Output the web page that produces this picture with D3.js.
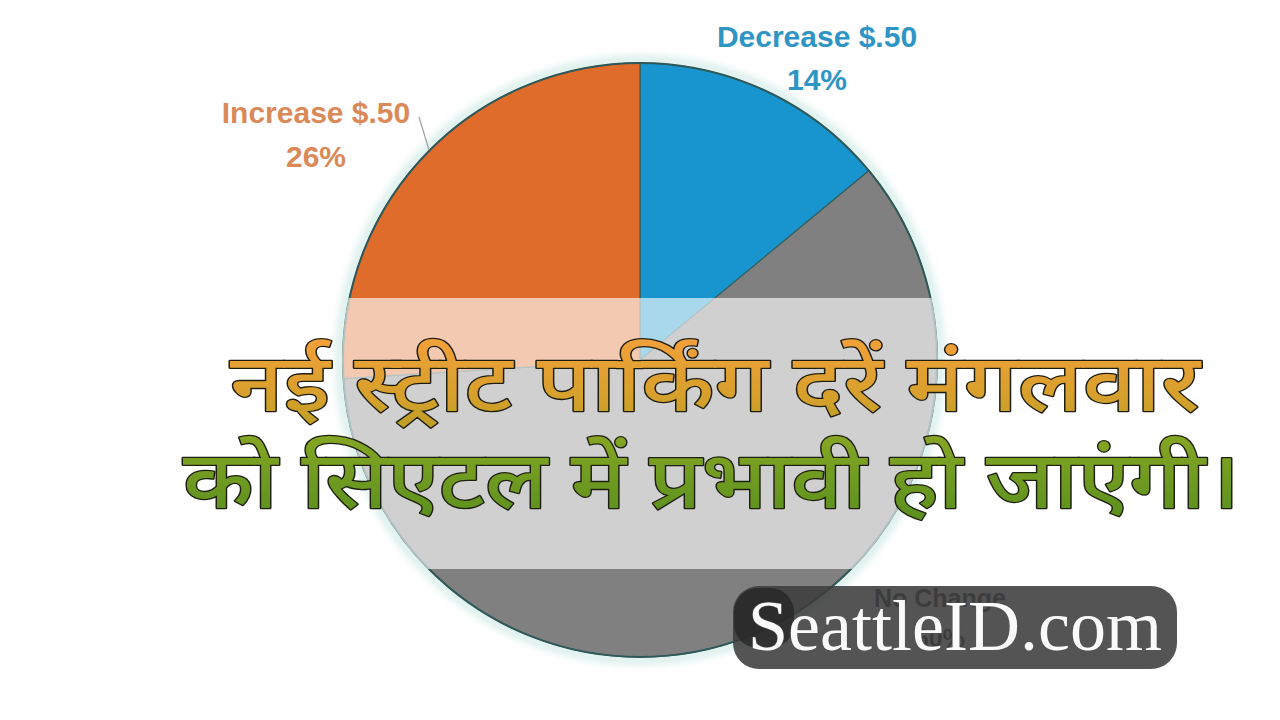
<!DOCTYPE html>
<html><head><meta charset="utf-8">
<script src="https://cdn.jsdelivr.net/npm/d3@7"></script>
<style>html,body{margin:0;padding:0;background:#fff;}svg{display:block;}</style>
</head><body>
<svg id="c" width="1280" height="720"></svg>
<script>
const categories = ["Decrease $.50", "No Change", "Increase $.50"];
const values = [14, 60, 26];
const pctLabels = ["14%", "60%", "26%"];
const colors = ["#1895CF", "#808080", "#E06C2C"];
const labelColors = ["#2E95C4", "#3a3a3a", "#D98A58"];
const headline = ["नई स्ट्रीट पार्किंग दरें मंगलवार", "को सिएटल में प्रभावी हो जाएंगी।"];
const watermark = "SeattleID.com";

const svg = d3.select("#c");
const W = 1280, H = 720, cx = 640, cy = 360, R = 297;
const defs = svg.append("defs");

const f = defs.append("filter").attr("id","blur").attr("x","-20%").attr("y","-20%").attr("width","140%").attr("height","140%");
f.append("feGaussianBlur").attr("stdDeviation", 4);

defs.append("clipPath").attr("id","pieclip").append("circle").attr("cx",cx).attr("cy",cy).attr("r",R+1);

const g1 = defs.append("linearGradient").attr("id","gold").attr("x1",0).attr("y1",0).attr("x2",0).attr("y2",1);
g1.append("stop").attr("offset","0%").attr("stop-color","#F2A03A");
g1.append("stop").attr("offset","55%").attr("stop-color","#D6A02C");
g1.append("stop").attr("offset","100%").attr("stop-color","#B09E22");
const g2 = defs.append("linearGradient").attr("id","green").attr("x1",0).attr("y1",0).attr("x2",0).attr("y2",1);
g2.append("stop").attr("offset","0%").attr("stop-color","#86A624");
g2.append("stop").attr("offset","100%").attr("stop-color","#4E8A1C");

svg.append("circle").attr("cx",cx).attr("cy",cy).attr("r",R+3)
  .attr("fill","none").attr("stroke","#9fd6cc").attr("stroke-width",6).attr("opacity",0.6).attr("filter","url(#blur)");

const pie = d3.pie().sort(null).value(d => d)(values);
const arc = d3.arc().innerRadius(0).outerRadius(R);
const pg = svg.append("g").attr("transform", `translate(${cx},${cy})`);
pg.selectAll("path").data(pie).join("path")
  .attr("d", arc).attr("fill", (d,i) => colors[i])
  .attr("stroke", "#35605e").attr("stroke-width", 1.2);
pg.append("circle").attr("r", R).attr("fill","none").attr("stroke","#2f5858").attr("stroke-width",2);

const bandY = d3.scaleLinear().domain([0,1]).range([298, 569]);
svg.append("rect").attr("x", 0).attr("y", bandY(0)).attr("width", W).attr("height", bandY(1)-bandY(0))
  .attr("fill","#fff").attr("opacity",0.63).attr("clip-path","url(#pieclip)");

svg.append("line").attr("x1",419).attr("y1",117).attr("x2",429).attr("y2",150)
  .attr("stroke","#a0a0a0").attr("stroke-width",1.2);

const labelPos = [[817,47,90],[940,607,647],[316,123,167]];
labelPos.forEach((p,i) => {
  const t = svg.append("g").attr("font-family","'Liberation Sans', Arial, sans-serif").attr("font-weight","bold")
    .attr("fill",labelColors[i]).attr("text-anchor","middle");
  t.append("text").attr("x",p[0]).attr("y",p[1]).text(categories[i]).attr("font-size", i===1?25:30);
  t.append("text").attr("x",p[0]).attr("y",p[2]).text(pctLabels[i]).attr("font-size", i===1?25:30);
});

const hl = [
  {t: headline[0], x: 230, y: 411, w: 970, fill: "url(#gold)"},
  {t: headline[1], x: 183, y: 508, w: 1057, fill: "url(#green)"}
];
hl.forEach(h => {
  svg.append("text").attr("x", h.x).attr("y", h.y).text(h.t)
    .attr("font-family","'Noto Sans Devanagari','Noto Sans','Lohit Devanagari',sans-serif")
    .attr("font-weight","500").attr("font-size",80)
    .attr("textLength", h.w).attr("lengthAdjust","spacingAndGlyphs")
    .attr("fill", h.fill).attr("stroke","#1e1e10").attr("stroke-width",2.6).attr("paint-order","stroke")
    .attr("stroke-linejoin","round");
});

svg.append("rect").attr("x",733).attr("y",586).attr("width",444).attr("height",83).attr("rx",26)
  .attr("fill","#3c3c3c").attr("opacity",0.88);
svg.append("rect").attr("x",734).attr("y",588).attr("width",60).attr("height",60).attr("rx",24)
  .attr("fill","#222").attr("opacity",0.7);
svg.append("text").attr("x",748).attr("y",650).text(watermark)
  .attr("font-family","'Liberation Serif','DejaVu Serif',serif").attr("font-size",72)
  .attr("textLength",414).attr("lengthAdjust","spacingAndGlyphs")
  .attr("fill","#fafafa").attr("stroke","#555").attr("stroke-width",1).attr("paint-order","stroke");
</script>
</body></html>
